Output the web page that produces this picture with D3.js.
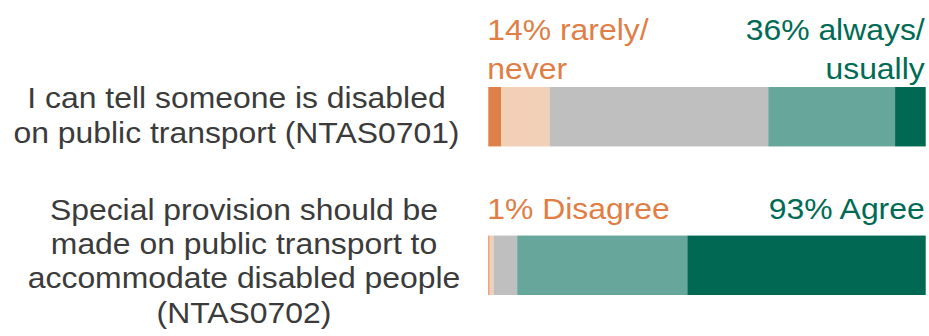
<!DOCTYPE html>
<html>
<head>
<meta charset="utf-8">
<script src="https://cdn.jsdelivr.net/npm/d3@7"></script>
<style>
  html, body { margin: 0; padding: 0; background: #fff; }
  svg { display: block; font-family: "Liberation Sans", Arial, sans-serif; }
</style>
</head>
<body>
<svg id="chart" width="929" height="336"></svg>
<script>
// Survey questions (wrapped label lines)
const questions = ["NTAS0701", "NTAS0702"];
const questionLines = [
  ["I can tell someone is disabled", "on public transport (NTAS0701)"],
  ["Special provision should be", "made on public transport to", "accommodate disabled people", "(NTAS0702)"]
];

// Response categories, from most negative to most positive
const responseKeys = ["neg2", "neg1", "neutral", "pos1", "pos2"];
const responseColors = ["#de8049", "#f2cfb7", "#bfbfbf", "#67a69a", "#006853"];

// Percentage of respondents in each category
const ntas0701 = [3, 11, 50, 29, 7];
const ntas0702 = [0.3, 0.9, 5.4, 38.9, 54.5];

// Summary labels above each bar
const negLabels = [["14% rarely/", "never"], ["1% Disagree"]];
const posLabels = [["36% always/", "usually"], ["93% Agree"]];

const rows = questions.map((q, i) => {
  const vals = [ntas0701, ntas0702][i];
  const row = { q };
  responseKeys.forEach((k, j) => row[k] = vals[j]);
  return row;
});

const svg = d3.select("#chart");

const x = d3.scaleLinear().domain([0, 100]).range([488.3, 925.7]);
const y = d3.scaleBand().domain(questions).range([87, 295]).paddingInner(0.6).paddingOuter(0);
const color = d3.scaleOrdinal().domain(responseKeys).range(responseColors);

const stacked = d3.stack().keys(responseKeys)(rows);

svg.append("g")
  .selectAll("g")
  .data(stacked)
  .join("g")
    .attr("fill", d => color(d.key))
  .selectAll("rect")
  .data(d => d)
  .join("rect")
    .attr("x", d => x(d[0]))
    .attr("y", d => y(d.data.q))
    .attr("width", d => x(d[1]) - x(d[0]))
    .attr("height", y.bandwidth());

// Text is set slightly wide
const stretch = 1.1;

// Multi-line text block anchored at (ax, firstBaseline)
function textBlock(lines, ax, firstBaseline, gap, anchor, fill) {
  const t = svg.append("text")
    .attr("transform", `translate(${ax},0) scale(${stretch},1)`)
    .attr("text-anchor", anchor)
    .attr("fill", fill)
    .style("font-size", "29px");
  lines.forEach((line, j) => {
    t.append("tspan")
      .attr("x", 0)
      .attr("y", firstBaseline + j * gap)
      .text(line);
  });
}

// Question labels on the left, centred
const labelCenters = [236.5, 244];
const qLabelFirstBaseline = [108.5, 220];
questions.forEach((q, i) => {
  textBlock(questionLines[i], labelCenters[i], qLabelFirstBaseline[i], 34.2, "middle", "#3b3b3b");
});

// Summary labels above bars
const sumFirstBaseline = [40.5, 219];
questions.forEach((q, i) => {
  textBlock(negLabels[i], x(0) - 1, sumFirstBaseline[i], 39, "start", "#e07e45");
  textBlock(posLabels[i], x(100) - 1, sumFirstBaseline[i], 39, "end", "#006b54");
});
</script>
</body>
</html>
